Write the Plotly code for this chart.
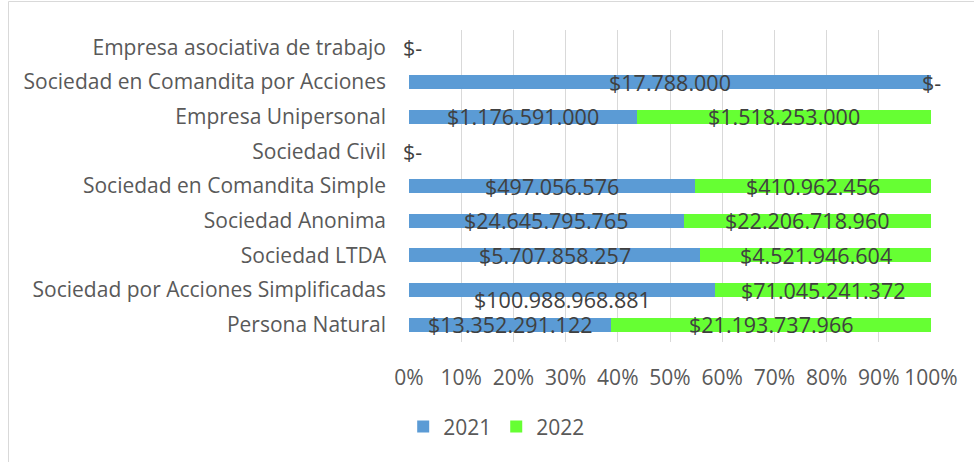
import plotly.graph_objects as go

categories = [
    "Persona Natural",
    "Sociedad por Acciones Simplificadas",
    "Sociedad LTDA",
    "Sociedad Anonima",
    "Sociedad en Comandita Simple",
    "Sociedad Civil",
    "Empresa Unipersonal",
    "Sociedad en Comandita por Acciones",
    "Empresa asociativa de trabajo",
]
values_2021 = [13352291122, 100988968881, 5707858257, 24645795765, 497056576, 0, 1176591000, 17788000, 0]
values_2022 = [21193737966, 71045241372, 4521946604, 22206718960, 410962456, 0, 1518253000, 0, 0]
x_ticks = [0, 10, 20, 30, 40, 50, 60, 70, 80, 90, 100]

BLUE = "#5B9BD5"
GREEN = "#66FF33"
FONT = "Open Sans"
LBL = 21
DLBL = 21.5


def money(v):
    if v == 0:
        return "$-"
    return "$" + f"{v:,}".replace(",", ".")


fig = go.Figure()
fig.add_trace(go.Bar(y=categories, x=values_2021, name="2021", orientation="h",
                     marker=dict(color=BLUE, line=dict(width=0)), width=0.4))
fig.add_trace(go.Bar(y=categories, x=values_2022, name="2022", orientation="h",
                     marker=dict(color=GREEN, line=dict(width=0)), width=0.4))

annotations = []
for cat, a, b in zip(categories, values_2021, values_2022):
    tot = a + b
    dfont = dict(family=FONT, size=DLBL, color="#404040")
    if tot == 0:
        annotations.append(dict(x=0, y=cat, text=money(0), showarrow=False, xanchor="center",
                                xshift=3, font=dfont))
        continue
    pa = a / tot * 100
    pb = b / tot * 100
    shift = -9 if cat == "Sociedad por Acciones Simplificadas" else 0
    annotations.append(dict(x=pa / 2, y=cat, text=money(a), showarrow=False, yshift=shift,
                            font=dfont))
    annotations.append(dict(x=pa + pb / 2, y=cat, text=money(b), showarrow=False,
                            font=dfont))

fig.update_layout(
    width=974, height=462,
    margin=dict(l=409, r=43, t=30, b=120),
    barmode="stack", barnorm="percent",
    plot_bgcolor="white", paper_bgcolor="white",
    font=dict(family=FONT, size=LBL, color="#595959"),
    annotations=annotations,
    showlegend=True,
    legend=dict(orientation="h", x=0.168, xanchor="center", y=-0.272, yanchor="middle",
                itemwidth=30, font=dict(family=FONT, size=LBL, color="#595959"),
                traceorder="normal"),
    shapes=[dict(type="rect", xref="paper", yref="paper",
                 x0=(8.5 - 409) / 522, x1=1.2, y0=-0.6, y1=(342 - 1.5) / 312,
                 line=dict(color="#D9D9D9", width=1), layer="below")],
)
fig.update_xaxes(range=[0, 100], tickvals=x_ticks, ticktext=[f"{t}%" for t in x_ticks],
                 showgrid=True, gridcolor="#D9D9D9", gridwidth=1, zeroline=False,
                 showline=False, ticks="", ticklabelstandoff=21,
                 tickfont=dict(family=FONT, size=LBL, color="#595959"))
fig.update_yaxes(showgrid=False, zeroline=False, showline=False, ticks="",
                 ticklabelstandoff=22,
                 tickfont=dict(family=FONT, size=LBL, color="#595959"))

fig.write_html("out.html", config={"displayModeBar": False},
               post_script="document.body.style.margin='0';")
